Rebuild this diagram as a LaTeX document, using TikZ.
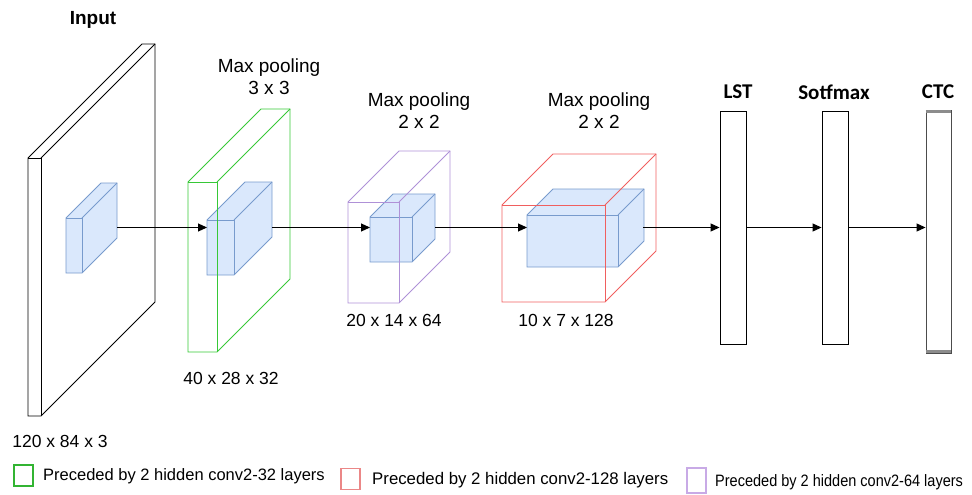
\documentclass[tikz,border=0pt]{standalone}
\usepackage{fontspec}
\usepackage{graphicx}
\setmainfont{Liberation Sans}
\newfontfamily\calib{Carlito}
\usetikzlibrary{arrows.meta}
\definecolor{slabgreen}{RGB}{55,200,55}
\definecolor{slabpurple}{RGB}{175,145,215}
\definecolor{slabred}{RGB}{240,95,95}
\definecolor{blkfill}{RGB}{218,232,252}
\definecolor{blkdraw}{RGB}{120,155,205}
\definecolor{leggreen}{RGB}{50,180,50}
\definecolor{legred}{RGB}{235,135,135}
\definecolor{legpurple}{RGB}{200,170,230}
\newcommand{\mycube}[6]{%
  \path[#1] (#2,#3+#5) -- (#2,#3) -- (#2+#6,#3-#6) -- (#2+#4+#6,#3-#6) -- (#2+#4+#6,#3+#5-#6) -- (#2+#4,#3+#5) -- cycle;
  \draw[#1,fill=none] (#2,#3) -- (#2+#4,#3) -- (#2+#4,#3+#5);
  \draw[#1,fill=none] (#2+#4,#3) -- (#2+#4+#6,#3-#6);
}
\tikzset{
  slab/.style={draw, line width=0.9pt, line join=miter},
  blk/.style={draw=blkdraw, fill=blkfill, line width=0.9pt},
  arr/.style={draw, line width=1pt, -{Triangle[length=9pt,width=8pt]}},
  bar/.style={draw, line width=0.9pt, minimum width=26pt, minimum height=233pt, inner sep=0pt},
  title/.style={font=\fontsize{19}{22}\selectfont, align=center, inner sep=0pt},
  bold/.style={font=\calib\bfseries\fontsize{21}{24}\selectfont, inner sep=0pt},
  dim/.style={font=\fontsize{17.5}{20}\selectfont, inner sep=0pt},
  legtext/.style={font=\fontsize{16.5}{19}\selectfont, inner sep=0pt, anchor=west},
  legsq/.style={line width=1.6pt, minimum width=19pt, minimum height=21pt, inner sep=0pt},
}
\begin{document}
\begin{tikzpicture}[x=1pt, y=-1pt]
\useasboundingbox (0,0) rectangle (972,495);
% input slab and block
\mycube{slab, black, fill=white}{28}{158}{13}{258}{114}
\mycube{blk}{66}{218}{16}{55}{35}
% green slab
\mycube{blk}{207}{220}{27}{55}{38}
\mycube{slab, slabgreen}{188}{182}{29}{170}{73}
% purple slab
\mycube{blk}{370}{217}{42}{45}{23}
\mycube{slab, slabpurple}{348}{202}{51}{101}{51}
% red slab
\mycube{blk}{527}{215}{91}{52}{26}
\mycube{slab, slabred}{502}{205}{103}{97}{51}
% connector ends
\coordinate (in-out) at (117,227.5);
\coordinate (g-in) at (207,227.5);
\coordinate (g-out) at (272,227.5);
\coordinate (p-in) at (370,227.5);
\coordinate (p-out) at (435,227.5);
\coordinate (r-in) at (527,227.5);
\coordinate (r-out) at (643,227.5);
% bars
\node[bar] (lst) at (733,227.5) {};
\node[bar] (sm) at (835,227.5) {};
\node[bar, draw=black!70, minimum width=25pt, minimum height=243pt] (ctc) at (938.5,231.5) {};
\draw[line width=3pt, black!45] (ctc.north west) ++(0,2) -- ++(25,0);
\draw[line width=3pt, black!45] (ctc.south west) ++(0,-2) -- ++(25,0);
% arrows
\draw[arr] (in-out) -- (g-in);
\draw[arr] (g-out) -- (p-in);
\draw[arr] (p-out) -- (r-in);
\draw[arr] (r-out) -- (lst.west);
\draw[arr] (lst.east) -- (sm.west);
\draw[arr] (sm.east) -- (sm.east -| ctc.west);
% titles
\node[font=\bfseries\fontsize{19}{22}\selectfont, inner sep=0pt] (tin) at (93,20) {Input};
\node[title] (t1) at (269,77) {Max pooling\\3 x 3};
\node[title] (t2) at (419,111) {Max pooling\\2 x 2};
\node[title] (t3) at (599,111) {Max pooling\\2 x 2};
\node[bold] (tl) at (738,92) {LST};
\node[bold] (ts) at (834,92) {Sotfmax};
\node[bold] (tc) at (938,92) {CTC};
% dims
\node[dim] (d0) at (60,441) {120 x 84 x 3};
\node[dim] (d1) at (231,378) {40 x 28 x 32};
\node[dim] (d2) at (394,320) {20 x 14 x 64};
\node[dim] (d3) at (566,320) {10 x 7 x 128};
% legend
\node[legsq, draw=leggreen] (lg1) at (23.5,475.5) {};
\node[legtext] (lt1) at (43,476) {Preceded by 2 hidden conv2-32 layers};
\node[legsq, draw=legred] (lg2) at (350.5,479) {};
\node[legtext, font=\fontsize{16.8}{19}\selectfont] (lt2) at (372,480) {Preceded by 2 hidden conv2-128 layers};
\node[legsq, draw=legpurple, minimum height=25pt] (lg3) at (696.5,480.5) {};
\node[legtext] (lt3) at (715,482) {\scalebox{0.88}[1]{Preceded by 2 hidden conv2-64 layers}};
\end{tikzpicture}
\end{document}
